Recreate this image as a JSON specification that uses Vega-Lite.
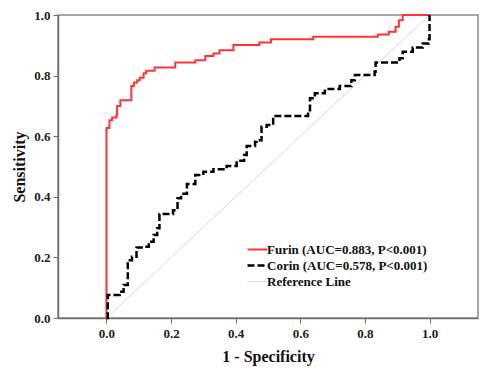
{
  "$schema": "https://vega.github.io/schema/vega-lite/v6.json",
  "width": 420,
  "height": 303,
  "autosize": {"type": "none"},
  "padding": {"left": 58, "top": 15, "right": 15, "bottom": 53},
  "background": "white",
  "config": {
    "view": {"stroke": "#8a8a8a", "strokeWidth": 1.5},
    "font": "Liberation Serif",
    "axis": {"grid": false, "domainColor": "#6f6f6f", "domainWidth": 1.5, "tickColor": "#6f6f6f", "tickSize": 5, "tickWidth": 1, "labelFont": "Liberation Serif", "labelFontWeight": "bold", "labelFontSize": 13, "labelColor": "#222", "titleFont": "Liberation Serif", "titleFontWeight": "bold", "titleFontSize": 16, "titleColor": "#111"}
  },
  "data": {"values": [
    {"series": "Furin (AUC=0.883, P<0.001)", "o": 0, "fpr": 0, "tpr": 0},
    {"series": "Furin (AUC=0.883, P<0.001)", "o": 1, "fpr": 0, "tpr": 0.627},
    {"series": "Furin (AUC=0.883, P<0.001)", "o": 2, "fpr": 0.0093, "tpr": 0.653},
    {"series": "Furin (AUC=0.883, P<0.001)", "o": 3, "fpr": 0.0176, "tpr": 0.662},
    {"series": "Furin (AUC=0.883, P<0.001)", "o": 4, "fpr": 0.031, "tpr": 0.67},
    {"series": "Furin (AUC=0.883, P<0.001)", "o": 5, "fpr": 0.033, "tpr": 0.70},
    {"series": "Furin (AUC=0.883, P<0.001)", "o": 6, "fpr": 0.043, "tpr": 0.719},
    {"series": "Furin (AUC=0.883, P<0.001)", "o": 7, "fpr": 0.077, "tpr": 0.766},
    {"series": "Furin (AUC=0.883, P<0.001)", "o": 8, "fpr": 0.085, "tpr": 0.777},
    {"series": "Furin (AUC=0.883, P<0.001)", "o": 9, "fpr": 0.095, "tpr": 0.785},
    {"series": "Furin (AUC=0.883, P<0.001)", "o": 10, "fpr": 0.103, "tpr": 0.793},
    {"series": "Furin (AUC=0.883, P<0.001)", "o": 11, "fpr": 0.115, "tpr": 0.808},
    {"series": "Furin (AUC=0.883, P<0.001)", "o": 12, "fpr": 0.123, "tpr": 0.816},
    {"series": "Furin (AUC=0.883, P<0.001)", "o": 13, "fpr": 0.149, "tpr": 0.827},
    {"series": "Furin (AUC=0.883, P<0.001)", "o": 14, "fpr": 0.213, "tpr": 0.843},
    {"series": "Furin (AUC=0.883, P<0.001)", "o": 15, "fpr": 0.275, "tpr": 0.851},
    {"series": "Furin (AUC=0.883, P<0.001)", "o": 16, "fpr": 0.306, "tpr": 0.865},
    {"series": "Furin (AUC=0.883, P<0.001)", "o": 17, "fpr": 0.331, "tpr": 0.873},
    {"series": "Furin (AUC=0.883, P<0.001)", "o": 18, "fpr": 0.35, "tpr": 0.884},
    {"series": "Furin (AUC=0.883, P<0.001)", "o": 19, "fpr": 0.393, "tpr": 0.901},
    {"series": "Furin (AUC=0.883, P<0.001)", "o": 20, "fpr": 0.473, "tpr": 0.909},
    {"series": "Furin (AUC=0.883, P<0.001)", "o": 21, "fpr": 0.509, "tpr": 0.92},
    {"series": "Furin (AUC=0.883, P<0.001)", "o": 22, "fpr": 0.64, "tpr": 0.928},
    {"series": "Furin (AUC=0.883, P<0.001)", "o": 23, "fpr": 0.84, "tpr": 0.936},
    {"series": "Furin (AUC=0.883, P<0.001)", "o": 24, "fpr": 0.874, "tpr": 0.945},
    {"series": "Furin (AUC=0.883, P<0.001)", "o": 25, "fpr": 0.895, "tpr": 0.961},
    {"series": "Furin (AUC=0.883, P<0.001)", "o": 26, "fpr": 0.905, "tpr": 0.983},
    {"series": "Furin (AUC=0.883, P<0.001)", "o": 27, "fpr": 0.917, "tpr": 1.0},
    {"series": "Furin (AUC=0.883, P<0.001)", "o": 28, "fpr": 1.0, "tpr": 1.0},
    {"series": "Corin (AUC=0.578, P<0.001)", "o": 0, "fpr": 0, "tpr": 0},
    {"series": "Corin (AUC=0.578, P<0.001)", "o": 1, "fpr": 0.004, "tpr": 0.076},
    {"series": "Corin (AUC=0.578, P<0.001)", "o": 2, "fpr": 0.041, "tpr": 0.087},
    {"series": "Corin (AUC=0.578, P<0.001)", "o": 3, "fpr": 0.053, "tpr": 0.109},
    {"series": "Corin (AUC=0.578, P<0.001)", "o": 4, "fpr": 0.066, "tpr": 0.191},
    {"series": "Corin (AUC=0.578, P<0.001)", "o": 5, "fpr": 0.079, "tpr": 0.202},
    {"series": "Corin (AUC=0.578, P<0.001)", "o": 6, "fpr": 0.093, "tpr": 0.233},
    {"series": "Corin (AUC=0.578, P<0.001)", "o": 7, "fpr": 0.116, "tpr": 0.235},
    {"series": "Corin (AUC=0.578, P<0.001)", "o": 8, "fpr": 0.131, "tpr": 0.252},
    {"series": "Corin (AUC=0.578, P<0.001)", "o": 9, "fpr": 0.146, "tpr": 0.274},
    {"series": "Corin (AUC=0.578, P<0.001)", "o": 10, "fpr": 0.157, "tpr": 0.296},
    {"series": "Corin (AUC=0.578, P<0.001)", "o": 11, "fpr": 0.164, "tpr": 0.343},
    {"series": "Corin (AUC=0.578, P<0.001)", "o": 12, "fpr": 0.206, "tpr": 0.356},
    {"series": "Corin (AUC=0.578, P<0.001)", "o": 13, "fpr": 0.22, "tpr": 0.395},
    {"series": "Corin (AUC=0.578, P<0.001)", "o": 14, "fpr": 0.231, "tpr": 0.41},
    {"series": "Corin (AUC=0.578, P<0.001)", "o": 15, "fpr": 0.249, "tpr": 0.442},
    {"series": "Corin (AUC=0.578, P<0.001)", "o": 16, "fpr": 0.275, "tpr": 0.472},
    {"series": "Corin (AUC=0.578, P<0.001)", "o": 17, "fpr": 0.3, "tpr": 0.483},
    {"series": "Corin (AUC=0.578, P<0.001)", "o": 18, "fpr": 0.331, "tpr": 0.491},
    {"series": "Corin (AUC=0.578, P<0.001)", "o": 19, "fpr": 0.372, "tpr": 0.502},
    {"series": "Corin (AUC=0.578, P<0.001)", "o": 20, "fpr": 0.403, "tpr": 0.519},
    {"series": "Corin (AUC=0.578, P<0.001)", "o": 21, "fpr": 0.426, "tpr": 0.538},
    {"series": "Corin (AUC=0.578, P<0.001)", "o": 22, "fpr": 0.434, "tpr": 0.568},
    {"series": "Corin (AUC=0.578, P<0.001)", "o": 23, "fpr": 0.46, "tpr": 0.582},
    {"series": "Corin (AUC=0.578, P<0.001)", "o": 24, "fpr": 0.465, "tpr": 0.587},
    {"series": "Corin (AUC=0.578, P<0.001)", "o": 25, "fpr": 0.48, "tpr": 0.631},
    {"series": "Corin (AUC=0.578, P<0.001)", "o": 26, "fpr": 0.496, "tpr": 0.637},
    {"series": "Corin (AUC=0.578, P<0.001)", "o": 27, "fpr": 0.516, "tpr": 0.667},
    {"series": "Corin (AUC=0.578, P<0.001)", "o": 28, "fpr": 0.624, "tpr": 0.686},
    {"series": "Corin (AUC=0.578, P<0.001)", "o": 29, "fpr": 0.63, "tpr": 0.725},
    {"series": "Corin (AUC=0.578, P<0.001)", "o": 30, "fpr": 0.645, "tpr": 0.742},
    {"series": "Corin (AUC=0.578, P<0.001)", "o": 31, "fpr": 0.676, "tpr": 0.756},
    {"series": "Corin (AUC=0.578, P<0.001)", "o": 32, "fpr": 0.722, "tpr": 0.766},
    {"series": "Corin (AUC=0.578, P<0.001)", "o": 33, "fpr": 0.758, "tpr": 0.785},
    {"series": "Corin (AUC=0.578, P<0.001)", "o": 34, "fpr": 0.769, "tpr": 0.802},
    {"series": "Corin (AUC=0.578, P<0.001)", "o": 35, "fpr": 0.83, "tpr": 0.813},
    {"series": "Corin (AUC=0.578, P<0.001)", "o": 36, "fpr": 0.833, "tpr": 0.843},
    {"series": "Corin (AUC=0.578, P<0.001)", "o": 37, "fpr": 0.907, "tpr": 0.857},
    {"series": "Corin (AUC=0.578, P<0.001)", "o": 38, "fpr": 0.917, "tpr": 0.879},
    {"series": "Corin (AUC=0.578, P<0.001)", "o": 39, "fpr": 0.948, "tpr": 0.893},
    {"series": "Corin (AUC=0.578, P<0.001)", "o": 40, "fpr": 0.979, "tpr": 0.906},
    {"series": "Corin (AUC=0.578, P<0.001)", "o": 41, "fpr": 0.998, "tpr": 0.92},
    {"series": "Corin (AUC=0.578, P<0.001)", "o": 42, "fpr": 1.0, "tpr": 1.0},
    {"series": "Reference Line", "o": 0, "fpr": 0, "tpr": 0},
    {"series": "Reference Line", "o": 1, "fpr": 1, "tpr": 1}
  ]},
  "encoding": {
    "x": {"field": "fpr", "type": "quantitative", "title": "1 - Specificity",
          "scale": {"domain": [-0.15, 1.15], "nice": false, "zero": false},
          "axis": {"values": [0, 0.2, 0.4, 0.6, 0.8, 1.0], "format": ".1f", "titlePadding": 8, "labelPadding": 4}},
    "y": {"field": "tpr", "type": "quantitative", "title": "Sensitivity",
          "scale": {"domain": [0, 1], "nice": false},
          "axis": {"values": [0, 0.2, 0.4, 0.6, 0.8, 1.0], "format": ".1f", "titlePadding": 6, "labelPadding": 3}},
    "order": {"field": "o", "type": "quantitative"},
    "color": {"field": "series", "type": "nominal",
              "scale": {"domain": ["Furin (AUC=0.883, P<0.001)", "Corin (AUC=0.578, P<0.001)", "Reference Line"], "range": ["#ff3333", "#000000", "#d2d2d2"]},
              "legend": {"title": null, "orient": "none", "legendX": 193, "legendY": 228, "symbolType": "M-2,0H2", "symbolSize": 100, "symbolStrokeWidth": 2.5, "labelFont": "Liberation Serif", "labelFontWeight": "bold", "labelFontSize": 13, "labelColor": "#111", "rowPadding": 2, "labelLimit": 300, "labelOffset": 3}},
    "strokeDash": {"field": "series", "type": "nominal",
              "scale": {"domain": ["Furin (AUC=0.883, P<0.001)", "Corin (AUC=0.578, P<0.001)", "Reference Line"], "range": [[1, 0], [7, 3], [1, 0]]}},
    "strokeWidth": {"field": "series", "type": "nominal",
              "scale": {"type": "ordinal", "domain": ["Furin (AUC=0.883, P<0.001)", "Corin (AUC=0.578, P<0.001)", "Reference Line"], "range": [2, 2.5, 1]}}
  },
  "layer": [
    {"transform": [{"filter": "datum.series === 'Reference Line'"}],
     "mark": {"type": "line", "interpolate": "linear", "clip": false}},
    {"transform": [{"filter": "datum.series !== 'Reference Line'"}],
     "mark": {"type": "line", "interpolate": "step-after", "clip": false}}
  ]
}
